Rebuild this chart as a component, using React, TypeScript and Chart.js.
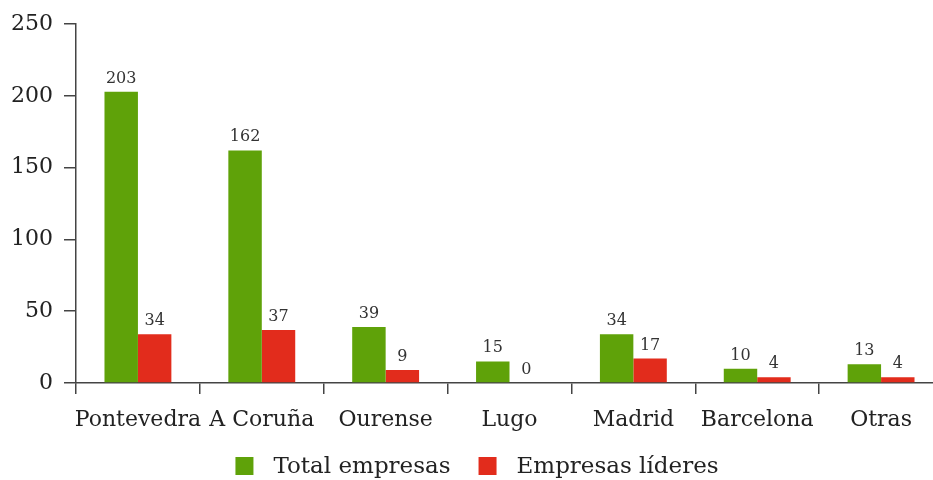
import { useEffect, useRef } from "react";
import { Chart, registerables } from "chart.js";

Chart.register(...registerables);

const categories = ["Pontevedra", "A Coruña", "Ourense", "Lugo", "Madrid", "Barcelona", "Otras"];
const totalEmpresas = [203, 162, 39, 15, 34, 10, 13];
const empresasLideres = [34, 37, 9, 0, 17, 4, 4];
const seriesLabels = ["Total empresas", "Empresas líderes"];
const seriesColors = ["#5fa209", "#e22c1c"];
const yMin = 0;
const yMax = 250;
const yStep = 50;

const FONT = "'DejaVu Serif', serif";

const valueLabels = {
  id: "valueLabels",
  afterDatasetsDraw(chart: any) {
    const ctx = chart.ctx;
    ctx.save();
    ctx.font = `16px ${FONT}`;
    ctx.fillStyle = "#333";
    ctx.textAlign = "center";
    ctx.textBaseline = "alphabetic";
    chart.data.datasets.forEach((ds: any, i: number) => {
      const meta = chart.getDatasetMeta(i);
      meta.data.forEach((el: any, j: number) => {
        ctx.fillText(String(ds.data[j]), el.x, el.y - 9);
      });
    });
    ctx.restore();
  },
};

const bottomLegend = {
  id: "bottomLegend",
  afterDraw(chart: any) {
    const ctx = chart.ctx;
    ctx.save();
    ctx.font = `23px ${FONT}`;
    ctx.textBaseline = "middle";
    ctx.textAlign = "left";
    const box = 18;
    const gapText = 20;
    const gapItem = 28;
    const items = chart.data.datasets.map((ds: any) => ({
      label: ds.label,
      color: ds.backgroundColor,
      w: ctx.measureText(ds.label).width,
    }));
    let total = 0;
    items.forEach((it: any, i: number) => {
      total += box + gapText + it.w + (i < items.length - 1 ? gapItem : 0);
    });
    let x = 477 - total / 2;
    const cy = 466;
    items.forEach((it: any) => {
      ctx.fillStyle = it.color;
      ctx.fillRect(x, cy - box / 2, box, box);
      x += box + gapText;
      ctx.fillStyle = "#222";
      ctx.fillText(it.label, x, cy + 1);
      x += it.w + gapItem;
    });
    ctx.restore();
  },
};

export default function App() {
  const ref = useRef<HTMLCanvasElement | null>(null);

  useEffect(() => {
    if (!ref.current) return;
    const chart = new Chart(ref.current, {
      type: "bar",
      data: {
        labels: categories,
        datasets: [
          {
            label: seriesLabels[0],
            data: totalEmpresas,
            backgroundColor: seriesColors[0],
            categoryPercentage: 0.54,
            barPercentage: 1,
          },
          {
            label: seriesLabels[1],
            data: empresasLideres,
            backgroundColor: seriesColors[1],
            categoryPercentage: 0.54,
            barPercentage: 1,
          },
        ],
      },
      options: {
        animation: false,
        responsive: true,
        maintainAspectRatio: false,
        layout: { padding: { top: 22, right: 0, bottom: 37, left: 0 } },
        plugins: {
          legend: { display: false },
          tooltip: { enabled: false },
        },
        scales: {
          x: {
            offset: true,
            grid: {
              offset: true,
              display: true,
              drawOnChartArea: false,
              drawTicks: true,
              tickLength: 11,
              color: "#444",
              lineWidth: 1.5,
            },
            border: { display: true, color: "#444", width: 1.5 },
            ticks: {
              color: "#222",
              font: { family: FONT, size: 22 },
              padding: 13,
              maxRotation: 0,
              autoSkip: false,
            },
            afterFit(scale: any) {
              scale.height = 60;
            },
          },
          y: {
            min: yMin,
            max: yMax,
            grid: {
              display: true,
              drawOnChartArea: false,
              drawTicks: true,
              tickLength: 12,
              color: "#444",
              lineWidth: 1.5,
            },
            border: { display: true, color: "#444", width: 1.5 },
            ticks: {
              stepSize: yStep,
              color: "#222",
              font: { family: FONT, size: 22 },
              padding: 11,
            },
            afterFit(scale: any) {
              scale.width = 76;
            },
          },
        },
      },
      plugins: [valueLabels, bottomLegend],
    });
    return () => chart.destroy();
  }, []);

  return (
    <div
      style={{
        position: "absolute",
        left: 0,
        top: 0,
        width: 933,
        height: 480,
        overflow: "hidden",
        background: "#fff",
      }}
    >
      <div style={{ position: "relative", width: 943, height: 480 }}>
        <canvas ref={ref} />
      </div>
    </div>
  );
}
